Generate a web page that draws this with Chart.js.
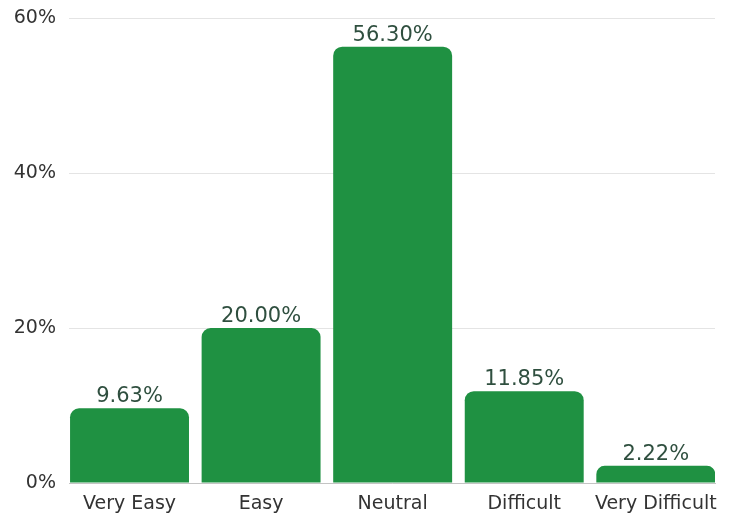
<!DOCTYPE html>
<html>
<head>
<meta charset="utf-8">
<script src="https://cdn.jsdelivr.net/npm/chart.js@4"></script>
<style>
html,body{margin:0;padding:0;background:#fff;}
#wrap{width:729px;height:518px;position:relative;}
</style>
</head>
<body>
<div id="wrap"><canvas id="c" width="729" height="518"></canvas></div>
<script>
const categories = ["Very Easy", "Easy", "Neutral", "Difficult", "Very Difficult"];
const values = [9.63, 20.00, 56.30, 11.85, 2.22];
const yTicks = [0, 20, 40, 60];

const labelPlugin = {
  id: 'valueLabels',
  afterDatasetsDraw(chart) {
    const ctx = chart.ctx;
    const meta = chart.getDatasetMeta(0);
    ctx.save();
    ctx.font = '21px "DejaVu Sans"';
    ctx.fillStyle = '#2f4f3f';
    ctx.textAlign = 'center';
    ctx.textBaseline = 'bottom';
    meta.data.forEach((bar, i) => {
      ctx.fillText(values[i].toFixed(2) + '%', bar.x, bar.y - 1);
    });
    ctx.restore();
  }
};

new Chart(document.getElementById('c'), {
  type: 'bar',
  data: {
    datasets: [{
      data: values.map((v, i) => ({x: i, y: v})),
      backgroundColor: '#1f9142',
      borderRadius: {topLeft: 9, topRight: 9, bottomLeft: 0, bottomRight: 0},
      borderSkipped: 'start',
      barPercentage: 0.904,
      categoryPercentage: 1
    }]
  },
  options: {
    responsive: false,
    animation: false,
    layout: {padding: {left: 0, right: 14, top: 18, bottom: 0}},
    plugins: {legend: {display: false}, tooltip: {enabled: false}},
    scales: {
      x: {
        type: 'linear',
        offset: false,
        min: -0.46,
        max: 4.45,
        afterFit(s) { s.height = 35; s.paddingLeft = 0; s.paddingRight = 0; },
        afterBuildTicks(s) { s.ticks = categories.map((_, i) => ({value: i})); },
        grid: {display: false, drawTicks: false, offset: false},
        border: {display: true, color: '#c4c4c4', width: 1},
        ticks: {
          padding: 10,
          maxRotation: 0,
          autoSkip: false,
          color: '#333',
          font: {family: 'DejaVu Sans', size: 19},
          callback: (v) => categories[v] !== undefined ? categories[v] : ''
        }
      },
      y: {
        min: 0,
        max: 60,
        afterFit(s) { s.width = 69; s.paddingTop = 0; s.paddingBottom = 0; },
        afterBuildTicks(s) { s.ticks = yTicks.map(v => ({value: v})); },
        grid: {color: '#e4e4e4', lineWidth: 1, drawTicks: false},
        border: {display: false},
        ticks: {
          padding: 13,
          color: '#333',
          font: {family: 'DejaVu Sans', size: 19},
          callback: (v) => v + '%'
        }
      }
    }
  },
  plugins: [labelPlugin]
});
</script>
</body>
</html>
